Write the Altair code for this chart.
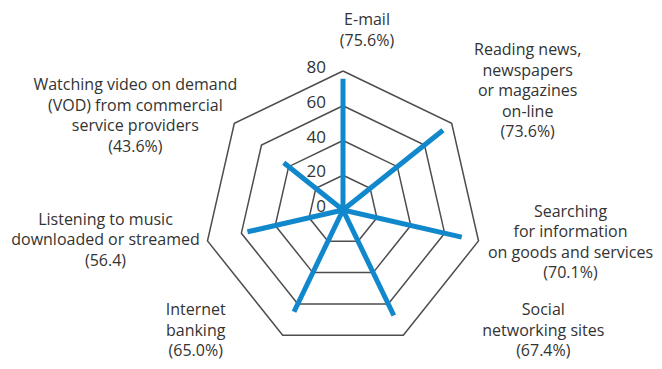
import math
import altair as alt
import pandas as pd

# ---- data ----
categories = [
    "E-mail",
    "Reading news,\nnewspapers\nor magazines\non-line",
    "Searching\nfor information\non goods and services",
    "Social\nnetworking sites",
    "Internet\nbanking",
    "Listening to music\ndownloaded or streamed",
    "Watching video on demand\n(VOD) from commercial\nservice providers",
]
values = [75.6, 73.6, 70.1, 67.4, 65.0, 56.4, 43.6]
value_texts = ["(75.6%)", "(73.6%)", "(70.1%)", "(67.4%)", "(65.0%)", "(56.4)", "(43.6%)"]
grid_levels = [20, 40, 60, 80]
tick_levels = [0, 20, 40, 60, 80]
r_max = 80
n = len(categories)

# ---- tables built from the arrays ----
spokes = pd.DataFrame(
    [{"cat": i, "idx": i, "r": r, "ord": k}
     for i, v in enumerate(values) for k, r in enumerate([0, v])]
)
grid = pd.DataFrame(
    [{"level": lv, "idx": j % n, "ord": j, "r": lv}
     for lv in grid_levels for j in range(n + 1)]
)
ticks = pd.DataFrame({"r": tick_levels, "idx": 0, "txt": [str(t) for t in tick_levels]})
labels = pd.DataFrame({
    "idx": list(range(n)),
    "r": r_max,
    "txt": [c + "\n" + v for c, v in zip(categories, value_texts)],
})

xcalc = f"datum.r * sin(2 * PI * datum.idx / {n})"
ycalc = f"datum.r * cos(2 * PI * datum.idx / {n})"

PX = 139 / 80  # pixels per unit
W, H = 646, 353
CX, CY = 335, 202
X = alt.X("x:Q", scale=alt.Scale(domain=[-CX / PX, (W - CX) / PX], nice=False, zero=False), axis=None)
Y = alt.Y("y:Q", scale=alt.Scale(domain=[-(H - CY) / PX, CY / PX], nice=False, zero=False), axis=None)

FONT = "Open Sans"
TXT = "#333333"

grid_layer = alt.Chart(grid).transform_calculate(x=xcalc, y=ycalc).mark_line(
    color="#4d4d4d", strokeWidth=1.5
).encode(x=X, y=Y, detail="level:N", order="ord:Q")

spoke_layer = alt.Chart(spokes).transform_calculate(x=xcalc, y=ycalc).mark_line(
    color="#1187cc", strokeWidth=5, strokeCap="butt"
).encode(x=X, y=Y, detail="cat:N", order="ord:Q")

tick_layer = alt.Chart(ticks).transform_calculate(x=xcalc, y=ycalc).mark_text(
    align="right", baseline="middle", dx=-17, dy=-3, fontSize=17, font=FONT, color=TXT
).encode(x=X, y=Y, text="txt:N")

offsets = [(24, -51), (76, -73), (92, -29), (140, -25), (-87, -25), (-102, -21), (-99, -38)]
label_layers = []
for i, (dx, dy) in enumerate(offsets):
    label_layers.append(
        alt.Chart(labels).transform_filter(f"datum.idx == {i}")
        .transform_calculate(x=xcalc, y=ycalc)
        .mark_text(align="center", baseline="middle", dx=dx, dy=dy, fontSize=16,
                   font=FONT, color=TXT, lineBreak="\n", lineHeight=20.5)
        .encode(x=X, y=Y, text="txt:N")
    )

chart = alt.layer(grid_layer, spoke_layer, tick_layer, *label_layers).properties(
    width=W, height=H, padding=0, autosize="none"
).configure_view(stroke=None)

chart.save("out.html", embed_options={"renderer": "svg", "actions": False})
